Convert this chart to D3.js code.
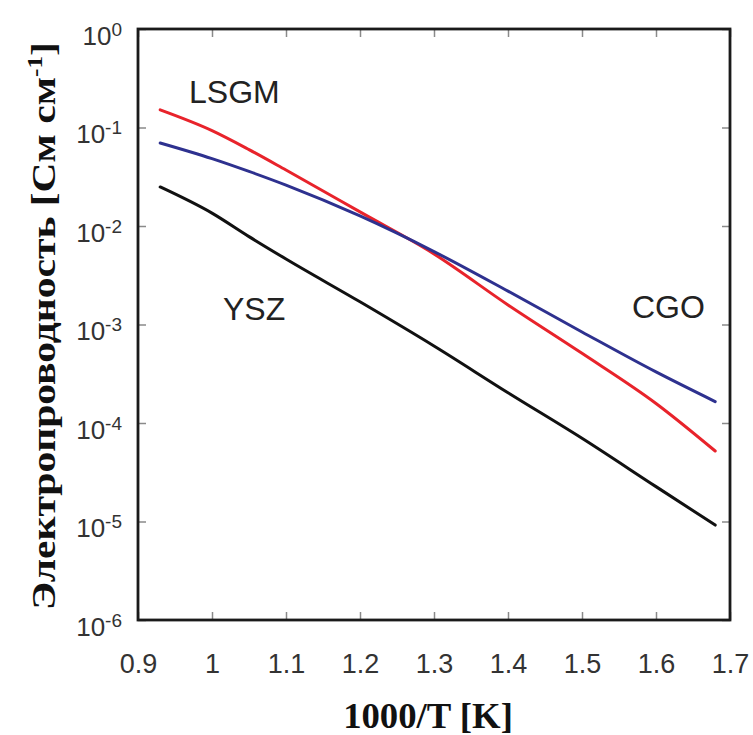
<!DOCTYPE html>
<html><head><meta charset="utf-8">
<script src="https://cdn.jsdelivr.net/npm/d3@7/dist/d3.min.js"></script>
<style>body{margin:0;background:#fff}</style>
</head><body>
<svg id="chart" width="753" height="735"></svg>
<script>
// ---- data ----
const xValues = [0.93, 1.0, 1.05, 1.1, 1.2, 1.3, 1.4, 1.5, 1.6, 1.68];
const lsgm = [0.151, 0.093, 0.0597, 0.037, 0.0139, 0.0052, 0.00158, 0.00051, 0.000158, 0.000052];
const cgo  = [0.0696, 0.0483, 0.0358, 0.026, 0.01264, 0.0055, 0.00218, 0.00084, 0.00033, 0.000165];
const ysz  = [0.0249, 0.0135, 0.00780, 0.00462, 0.0017, 0.000605, 0.000203, 0.0000700, 0.0000226, 0.0000092];
const seriesNames = ["LSGM", "CGO", "YSZ"];
const seriesColors = ["#e8232b", "#2e318f", "#111111"];
const xTicks = [0.9, 1.0, 1.1, 1.2, 1.3, 1.4, 1.5, 1.6, 1.7];
const yExponents = [0, -1, -2, -3, -4, -5, -6];
const xTitle = "1000/T [K]";
const yTitle = "Электропроводность [См см";
const yTitleSup = "-1";

const svg = d3.select("#chart");
const L = 138, R = 730, T = 29, B = 620;
const x = d3.scaleLinear().domain([0.9, 1.7]).range([L, R]);
const y = d3.scaleLog().domain([1e-6, 1]).range([B, T]);
const yTickVals = yExponents.map(e => Math.pow(10, e));

const tickColor = "#8a8a8a";
const gB = svg.append("g").attr("transform", `translate(0,${B})`)
  .call(d3.axisBottom(x).tickValues(xTicks).tickSizeInner(-8).tickSizeOuter(0)
    .tickFormat(d => d3.format("")(+d.toFixed(1))));
const gT = svg.append("g").attr("transform", `translate(0,${T})`)
  .call(d3.axisTop(x).tickValues(xTicks).tickSizeInner(-8).tickSizeOuter(0).tickFormat(""));
const gL = svg.append("g").attr("transform", `translate(${L},0)`)
  .call(d3.axisLeft(y).tickValues(yTickVals).tickSizeInner(-8).tickSizeOuter(0).tickFormat(""));
const gR = svg.append("g").attr("transform", `translate(${R},0)`)
  .call(d3.axisRight(y).tickValues(yTickVals).tickSizeInner(-8).tickSizeOuter(0).tickFormat(""));

[gB, gT, gL, gR].forEach(g => {
  g.select(".domain").remove();
  g.selectAll(".tick line").attr("stroke", tickColor).attr("stroke-width", 1.5);
});
gB.selectAll(".tick text")
  .attr("font-family", "Liberation Sans, Arial, sans-serif")
  .attr("font-size", 27).attr("fill", "#333").attr("y", 53).attr("dy", 0);

gL.selectAll(".tick").each(function(d) {
  const e = Math.round(Math.log10(d));
  const t = d3.select(this).select("text")
    .attr("font-family", "Liberation Sans, Arial, sans-serif")
    .attr("fill", "#333").attr("text-anchor", "end").attr("x", -16).attr("dy", 0).attr("y", 15)
    .text(null);
  t.append("tspan").attr("font-size", 26).text("10");
  t.append("tspan").attr("font-size", 19).attr("dy", -9).text(e === 0 ? "0" : "-" + Math.abs(e));
});

svg.append("rect").attr("x", L).attr("y", T).attr("width", R - L).attr("height", B - T)
  .attr("fill", "none").attr("stroke", "#1a1a1a").attr("stroke-width", 2.8);

const allSeries = [lsgm, cgo, ysz];
const line = d3.line().x(d => x(d[0])).y(d => y(d[1])).curve(d3.curveMonotoneX);
allSeries.forEach((vals, i) => {
  svg.append("path")
    .datum(xValues.map((xv, j) => [xv, vals[j]]))
    .attr("d", line)
    .attr("fill", "none")
    .attr("stroke", seriesColors[i])
    .attr("stroke-width", 3)
    .attr("stroke-linecap", "round")
    .attr("stroke-linejoin", "round");
});

const labelPos = [[189, 103], [632, 318], [223, 320]];
seriesNames.forEach((name, i) => {
  svg.append("text").attr("x", labelPos[i][0]).attr("y", labelPos[i][1])
    .attr("font-family", "Liberation Sans, Arial, sans-serif")
    .attr("font-size", 32).attr("fill", "#222").text(name);
});

svg.append("text").attr("transform", "translate(428,728) scale(1.05,1)").attr("text-anchor", "middle")
  .attr("font-family", "Liberation Serif, Times New Roman, serif").attr("font-weight", "bold")
  .attr("font-size", 35).attr("fill", "#111").text(xTitle);

const yt = svg.append("text").attr("transform", "translate(55,326) rotate(-90) scale(1.26,1)")
  .attr("text-anchor", "middle")
  .attr("font-family", "Liberation Serif, Times New Roman, serif").attr("font-weight", "bold")
  .attr("font-size", 33).attr("fill", "#111");
yt.append("tspan").text(yTitle);
yt.append("tspan").attr("font-size", 20).attr("dy", -13).text(yTitleSup);
yt.append("tspan").attr("dy", 13).text("]");
</script>
</body></html>
